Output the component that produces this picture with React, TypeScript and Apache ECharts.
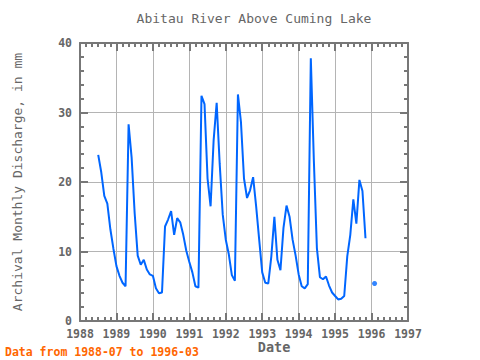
import React, { useEffect, useRef } from "react";
import * as echarts from "echarts";

// Monthly record starts 1988-07
const startYear = 1988;
const startMonth = 7;

// Archival monthly discharge (mm), 1988-07 .. 1996-03; null = missing
const discharge: (number | null)[] = [
  // 1988 Jul-Dec
  23.9, 21.4, 18.0, 16.9, 13.2, 10.4,
  // 1989
  7.9, 6.5, 5.5, 5.0, 28.3, 23.5, 15.5, 9.4, 8.1, 8.8, 7.4, 6.7,
  // 1990
  6.5, 4.7, 4.0, 4.1, 13.6, 14.6, 15.8, 12.4, 14.8, 14.2, 12.4, 10.1,
  // 1991
  8.5, 7.0, 5.0, 4.8, 32.4, 31.2, 20.5, 16.5, 26.0, 31.4, 22.6, 15.3,
  // 1992
  11.7, 9.6, 6.6, 5.8, 32.6, 28.6, 20.5, 17.7, 18.8, 20.7, 16.5, 11.7,
  // 1993
  7.0, 5.5, 5.4, 9.3, 15.0, 8.8, 7.3, 13.4, 16.6, 15.0, 11.7, 9.4,
  // 1994
  6.7, 5.0, 4.7, 5.3, 37.8, 23.1, 10.5, 6.3, 6.0, 6.4, 5.1, 4.1,
  // 1995
  3.6, 3.1, 3.2, 3.6, 9.3, 12.4, 17.5, 14.0, 20.3, 18.7, 11.9, null,
  // 1996 Jan-Mar
  null, 5.4, null,
];

const xMin = 1988;
const xMax = 1997;
const yMin = 0;
const yMax = 40;

const titleText = "Abitau River Above Cuming Lake";
const yAxisTitle = "Archival Monthly Discharge, in mm";
const xAxisTitle = "Date";
const footerText = "Data from 1988-07 to 1996-03";

const MONO = '"DejaVu Sans Mono", "Liberation Mono", monospace';
const AXIS_COLOR = "#777777";
const TEXT_COLOR = "#666666";
const LINE_COLOR = "#0066ff";

export default function App() {
  const ref = useRef<HTMLDivElement>(null);

  useEffect(() => {
    if (!ref.current) return;
    const chart = echarts.init(ref.current, undefined, { renderer: "svg" });

    const points = discharge.map((v, i) => [
      startYear + (startMonth - 1 + i) / 12,
      v,
    ]);
    const isolated = points.filter((p, i) => {
      if (p[1] == null) return false;
      const prev = i > 0 ? discharge[i - 1] : null;
      const next = i < discharge.length - 1 ? discharge[i + 1] : null;
      return prev == null && next == null;
    });

    const tickCommon = {
      axisLine: { show: true, onZero: false, lineStyle: { color: AXIS_COLOR, width: 2 } },
      axisTick: { show: true, inside: true, length: 8, lineStyle: { color: AXIS_COLOR, width: 2 } },
    };

    chart.setOption({
      animation: false,
      grid: { left: 80, right: 72, top: 43, height: 278, containLabel: false },
      xAxis: [
        {
          type: "value",
          position: "bottom",
          min: xMin,
          max: xMax,
          interval: 1,
          ...tickCommon,
          minorTick: { show: true, splitNumber: 6, length: 4, lineStyle: { color: AXIS_COLOR, width: 2 } },
          axisLabel: {
            formatter: (v: number) => String(v),
            color: TEXT_COLOR,
            fontFamily: MONO,
            fontWeight: "bold",
            fontSize: 11.5,
            margin: 7,
          },
          splitLine: { show: true, lineStyle: { color: "#b4b4b4", width: 1 } },
        },
        {
          type: "value",
          position: "top",
          min: xMin,
          max: xMax,
          interval: 1,
          ...tickCommon,
          minorTick: { show: true, splitNumber: 6, length: 4, lineStyle: { color: AXIS_COLOR, width: 2 } },
          axisLabel: { show: false },
          splitLine: { show: false },
        },
      ],
      yAxis: [
        {
          type: "value",
          position: "left",
          min: yMin,
          max: yMax,
          interval: 10,
          ...tickCommon,
          minorTick: { show: true, splitNumber: 5, length: 4, lineStyle: { color: AXIS_COLOR, width: 2 } },
          axisLabel: {
            color: TEXT_COLOR,
            fontFamily: MONO,
            fontWeight: "bold",
            fontSize: 11.5,
            margin: 8,
          },
          splitLine: { show: true, lineStyle: { color: "#b4b4b4", width: 1 } },
        },
        {
          type: "value",
          position: "right",
          min: yMin,
          max: yMax,
          interval: 10,
          ...tickCommon,
          minorTick: { show: true, splitNumber: 5, length: 4, lineStyle: { color: AXIS_COLOR, width: 2 } },
          axisLabel: { show: false },
          splitLine: { show: false },
        },
      ],
      series: [
        {
          type: "line",
          data: points,
          showSymbol: false,
          connectNulls: false,
          lineStyle: { color: LINE_COLOR, width: 2 },
          itemStyle: { color: LINE_COLOR },
          z: 3,
        },
        {
          type: "scatter",
          data: isolated,
          symbol: "circle",
          symbolSize: 5,
          itemStyle: { color: LINE_COLOR },
          z: 3,
        },
      ],
      graphic: [
        {
          type: "text",
          x: 254,
          y: 18,
          style: {
            text: titleText,
            fill: TEXT_COLOR,
            font: `13px ${MONO}`,
            align: "center",
            verticalAlign: "middle",
            textAlign: "center",
            textVerticalAlign: "middle",
          },
        },
        {
          type: "text",
          x: 17,
          y: 182,
          rotation: Math.PI / 2,
          style: {
            text: yAxisTitle,
            fill: TEXT_COLOR,
            font: `13px ${MONO}`,
            align: "center",
            verticalAlign: "middle",
            textAlign: "center",
            textVerticalAlign: "middle",
          },
        },
        {
          type: "text",
          x: 274,
          y: 347,
          style: {
            text: xAxisTitle,
            fill: TEXT_COLOR,
            font: `bold 13.5px ${MONO}`,
            align: "center",
            verticalAlign: "middle",
            textAlign: "center",
            textVerticalAlign: "middle",
          },
        },
        {
          type: "text",
          x: 5,
          y: 352,
          style: {
            text: footerText,
            fill: "#ff6600",
            font: `bold 11.5px ${MONO}`,
            align: "left",
            verticalAlign: "middle",
            textAlign: "left",
            textVerticalAlign: "middle",
          },
        },
      ],
    });

    return () => chart.dispose();
  }, []);

  return (
    <div
      ref={ref}
      style={{ position: "absolute", left: 0, top: 0, width: 480, height: 360, background: "#ffffff" }}
    />
  );
}
